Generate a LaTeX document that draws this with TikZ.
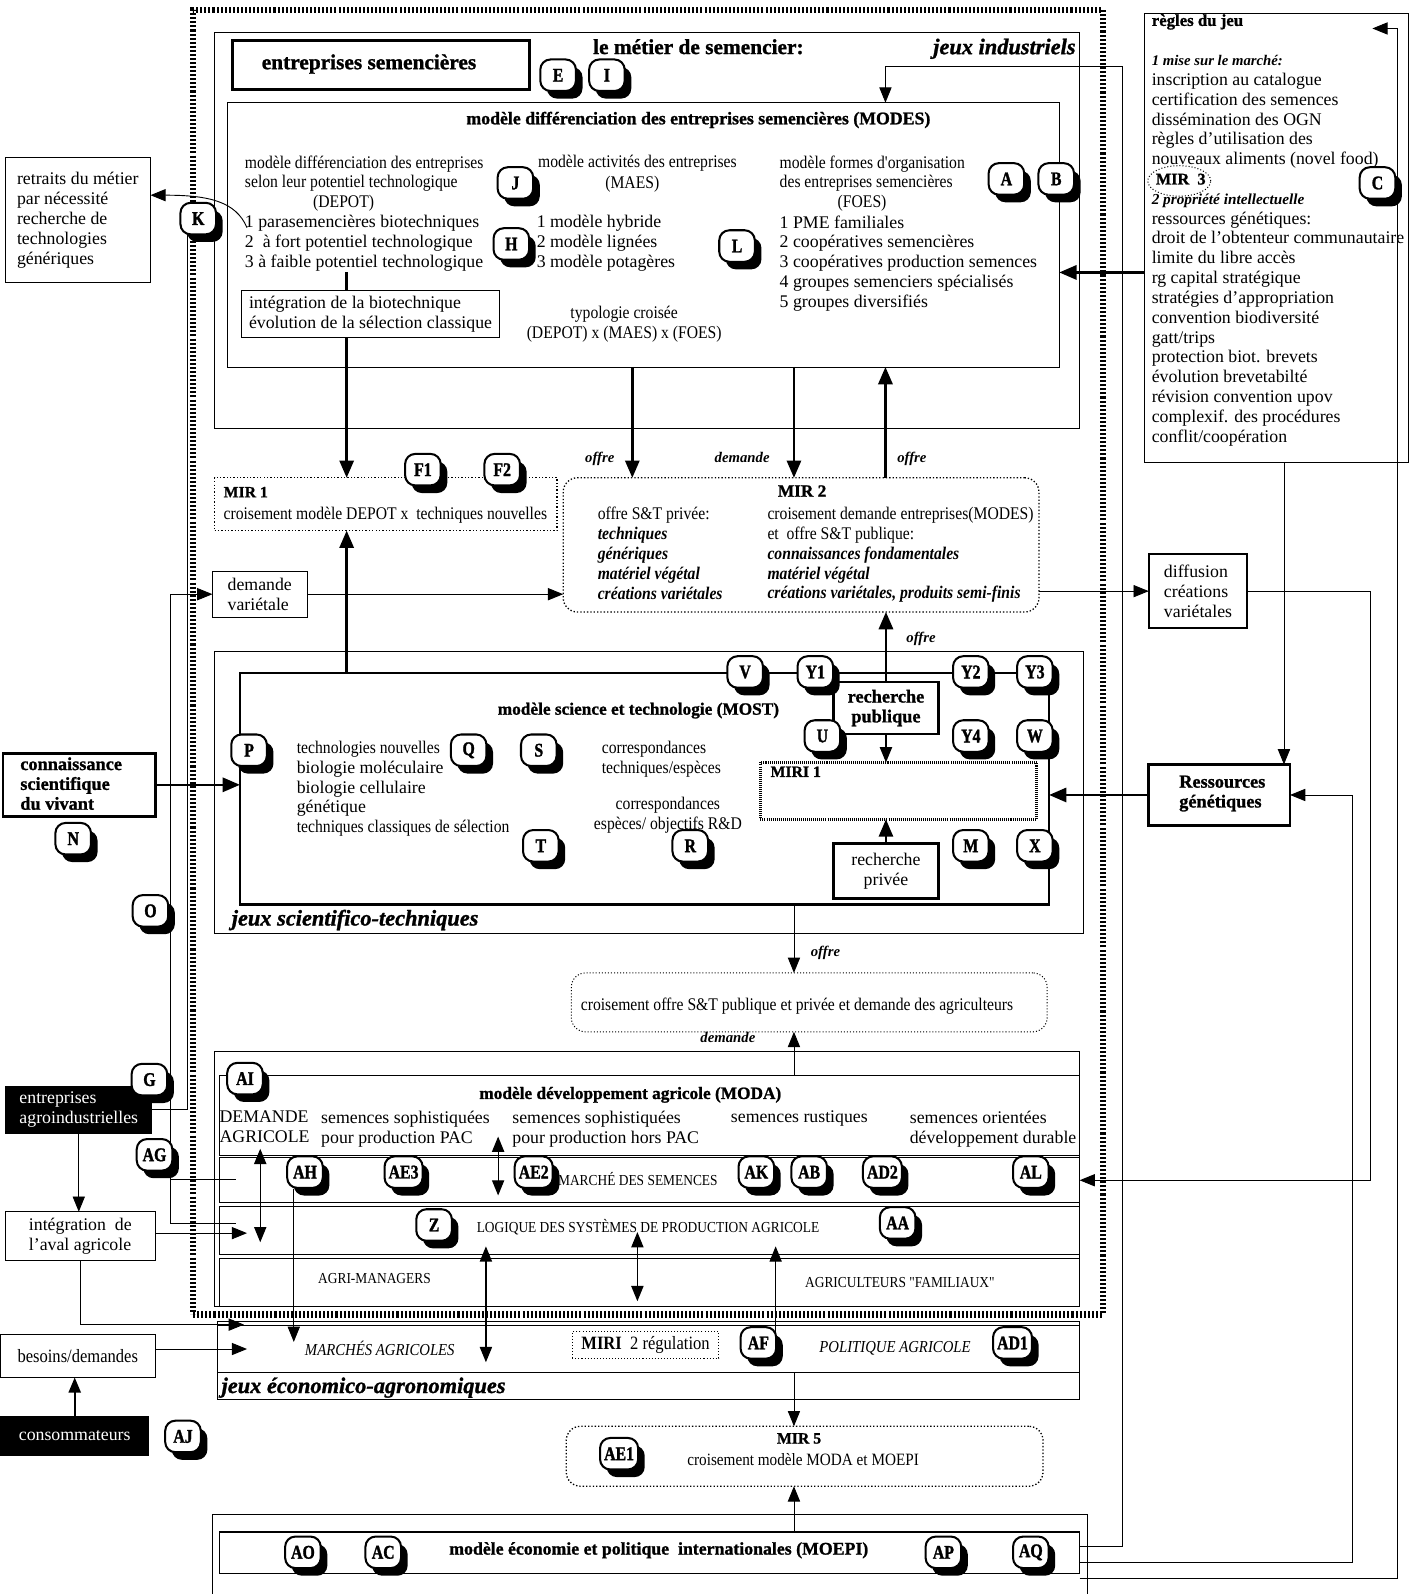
\documentclass[tikz,border=0pt]{standalone}
\usepackage{fontspec}
\setmainfont{Liberation Serif}
\newfontfamily\cnd{Liberation Serif}[FakeStretch=0.88]
\newfontfamily\hv{Liberation Serif}[BoldFeatures={FakeBold=1.2},BoldItalicFeatures={FakeBold=1.2}]
\newfontfamily\bdg{Liberation Serif}[FakeStretch=0.82,BoldFeatures={FakeBold=1.5}]
\usetikzlibrary{arrows.meta,shadows,shapes.geometric,calc}
\newcommand\myfs[1]{\fontsize{#1}{19.5}\selectfont}
\begin{document}
\begin{tikzpicture}[x=1pt,y=-1pt,
 every node/.style={inner sep=0pt,outer sep=0pt},
 txt/.style={anchor=north west,align=left,font=\myfs{17.5}},
 ctx/.style={anchor=north west,align=left,font=\cnd\myfs{17.5}},
 ctxt/.style={align=center,font=\cnd\myfs{17.5}},
 bt/.style={font=\hv\bfseries\myfs{17}},
 box/.style={draw,line width=0.9pt},
 tbox/.style={draw,line width=2.6pt},
 dbox/.style={draw,line width=1.3pt,dotted,rounded corners=14pt},
 badge/.style={draw,fill=white,line width=2pt,rounded corners=10pt,minimum width=35pt,minimum height=31pt,inner xsep=4pt,font=\bdg\bfseries\fontsize{19}{19}\selectfont,drop shadow={shadow xshift=6.5pt,shadow yshift=-7.5pt,fill=black,opacity=1}},
 arr/.style={-{Triangle[length=15pt,width=12pt]},line width=0.9pt},
 tarr/.style={-{Triangle[length=17pt,width=14pt]},line width=2.4pt},
 darr/.style={{Triangle[length=15pt,width=12pt]}-{Triangle[length=15pt,width=12pt]},line width=1.2pt},
 lab/.style={font=\myfs{14.5}\itshape\bfseries},
 line/.style={line width=0.9pt},
]
\useasboundingbox (0,0) rectangle (1398,1568);

% ---------- boxes ----------
\node[draw,line width=6pt,dash pattern=on 2pt off 2pt,minimum width=895pt,minimum height=1283pt] (hatch) at (637.5,651.5) {};
\node[box,minimum width=851pt,minimum height=389pt] (jind) at (636.5,226.5) {};
\node[tbox,minimum width=292pt,minimum height=48pt] (entsem) at (375,64) {};
\node[box,minimum width=818pt,minimum height=260pt] (modes) at (633,231) {};
\node[box,minimum width=143pt,minimum height=123pt,align=left,font=\myfs{17.5}] (retraits) at (76.5,216.5) {retraits du métier\\par nécessité\\recherche de\\technologies\\génériques};
\node[box,minimum width=253pt,minimum height=46pt,align=left,font=\myfs{17.5}] (integ) at (364.5,309) {intégration de la biotechnique\\évolution de la sélection classique};
\node[box,minimum width=259pt,minimum height=442pt] (regles) at (1255.5,234) {};
\node[draw,line width=1.3pt,dotted,minimum width=337pt,minimum height=52pt] (mir1) at (379.5,496) {};
\node[dbox,minimum width=468pt,minimum height=132pt] (mir2) at (788,536) {};
\node[box,minimum width=93pt,minimum height=45pt,align=left,font=\myfs{17.5}] (demvar) at (255.5,584.5) {demande\\variétale};
\node[draw,line width=2pt,minimum width=97pt,minimum height=73pt,align=left,font=\myfs{17.5}] (diff) at (1178.5,581.5) {diffusion\\créations\\variétales};
\node[box,minimum width=855pt,minimum height=277pt] (jst) at (638.5,779.5) {};
\node[tbox,minimum width=796pt,minimum height=228pt] (most) at (634,776) {};
\node[tbox,fill=white,minimum width=103pt,minimum height=51pt,align=center,font=\hv\bfseries\myfs{18}] (rpub) at (871.5,696.5) {recherche\\publique};
\node[draw,line width=3pt,dash pattern=on 1pt off 1pt,minimum width=272pt,minimum height=56pt] (miri1) at (884,778) {};
\node[tbox,minimum width=103pt,minimum height=54pt,align=center,font=\myfs{17.5}] (rpriv) at (871.5,857) {recherche\\privée};
\node[tbox,minimum width=150pt,minimum height=62pt] (conn) at (78,772) {};
\node[tbox,minimum width=139pt,minimum height=60pt] (resgen) at (1199.5,782) {};
\node[draw,line width=1pt,dotted,rounded corners=14pt,minimum width=468pt,minimum height=58pt] (crois) at (796,986) {};
\node[box,minimum width=851pt,minimum height=251pt] (modao) at (636.5,1159.5) {};
\node[box,minimum width=846pt,minimum height=79pt] (modai) at (639,1097.5) {};
\node[box,minimum width=846pt,minimum height=44pt] (rmarche) at (639,1161) {};
\node[box,minimum width=846pt,minimum height=47pt] (rlog) at (639,1210.5) {};
\node[box,minimum width=846pt,minimum height=47pt] (ragri) at (639,1261.5) {};
\node[fill=black,minimum width=145pt,minimum height=47pt,text=white,align=left,font=\myfs{17.5}] (entagro) at (77.5,1091.5) {entreprises\\agroindustrielles};
\node[box,minimum width=148pt,minimum height=48pt,align=left,font=\myfs{17.5}] (integaval) at (79,1216) {intégration \ de\\l'aval agricole};
\node[box,minimum width=153pt,minimum height=42pt,font=\cnd\myfs{18.5}] (besoins) at (76.5,1334) {besoins/demandes};
\node[fill=black,minimum width=147pt,minimum height=39pt,text=white,font=\myfs{17.5}] (conso) at (73.5,1412.5) {consommateurs};
\node[box,minimum width=848pt,minimum height=77pt] (eco) at (638,1338.5) {};
\draw[line] (eco.north west) ++(0,4) coordinate (ecol1) -- (ecol1 -| eco.east);
\coordinate (ecoy) at (0,1350);
\draw[line] (eco.west |- ecoy) -- (eco.east |- ecoy);
\node[draw,dotted,line width=1pt,minimum width=144pt,minimum height=26pt,font=\cnd\myfs{18.5}] (miri2) at (635,1323) {\textbf{MIRI}\ \ 2 régulation};
\node[dbox,minimum width=469pt,minimum height=59pt] (mir5) at (791.5,1432.5) {};
\node[box,minimum width=861pt,minimum height=84pt] (moepio) at (639.5,1532) {};
\node[box,line width=1.5pt,minimum width=846pt,minimum height=41pt] (moepi) at (639,1527.5) {};
\node[draw,ellipse,dotted,line width=1pt,minimum width=62pt,minimum height=30pt] (mir3) at (1160,178) {};

% ---------- texts ----------
\node[font=\hv\bfseries\myfs{21}] (t1) at (363,63) {entreprises semencières};
\node[font=\hv\bfseries\myfs{21}] (t2) at (687,46) {le métier de semencier:};
\node[font=\hv\bfseries\itshape\myfs{22},anchor=east] (t3) at (1058,48) {jeux industriels};
\node[bt,font=\hv\bfseries\myfs{17.5}] (t4) at (687,118) {modèle différenciation des entreprises semencières (MODES)};
\node[ctx] (t5) at (241,153) {modèle différenciation des entreprises\\selon leur potentiel technologique};
\node[ctxt] (t5b) at (338,200) {(DEPOT)};
\node[txt] (t6) at (241,212) {1 parasemencières biotechniques\\2 \ à fort potentiel technologique\\3 à faible potentiel technologique};
\node[ctxt] (t7) at (627,161) {modèle activités des entreprises};
\node[ctxt] (t7b) at (622,181) {(MAES)};
\node[txt] (t8) at (528,212) {1 modèle hybride\\2 modèle lignées\\3 modèle potagères};
\node[ctx] (t9) at (767,153) {modèle formes d'organisation\\des entreprises semencières};
\node[ctxt] (t9b) at (848,200) {(FOES)};
\node[txt] (t10) at (767,212) {1 PME familiales\\2 coopératives semencières\\3 coopératives production semences\\4 groupes semenciers spécialisés\\5 groupes diversifiés};
\node[ctxt] (t11) at (614,319) {typologie croisée\\(DEPOT) x (MAES) x (FOES)};
\node[txt] (rtxt) at (1133,14) {{\hv\bfseries\myfs{16.5}règles du jeu}\\[19.5pt]{\myfs{14.5}\itshape\bfseries 1 mise sur le marché:}\\inscription au catalogue\\certification des semences\\dissémination des OGN\\règles d'utilisation des\\nouveaux aliments (novel food)\\{\hv\bfseries\myfs{16} MIR \ 3}\\{\myfs{15}\itshape\bfseries 2 propriété intellectuelle}\\ressources génétiques:\\droit de l'obtenteur communautaire\\limite du libre accès\\rg capital stratégique\\stratégies d'appropriation\\convention biodiversité\\gatt/trips\\protection biot. brevets\\évolution brevetabilté\\révision convention upov\\complexif. des procédures\\conflit/coopération};
\node[txt,font=\hv\bfseries\myfs{15.5}] (t12) at (220,479) {MIR 1};
\node[ctx] (t13) at (220,499) {croisement modèle DEPOT x \ techniques nouvelles};
\node[bt] (t14) at (789,483) {MIR 2};
\node[ctx] (t15) at (588,499) {offre S\&T privée:\\\textit{\textbf{techniques}}\\\textit{\textbf{génériques}}\\\textit{\textbf{matériel végétal}}\\\textit{\textbf{créations variétales}}};
\node[ctx] (t16) at (755,499) {croisement demande entreprises(MODES)\\et \ offre S\&T publique:\\\textit{\textbf{connaissances fondamentales}}\\\textit{\textbf{matériel végétal}}\\\textit{\textbf{créations variétales, produits semi-finis}}};
\node[bt] (t17) at (628,699) {modèle science et technologie (MOST)};
\node[txt] (t18) at (292,729) {{\cnd technologies nouvelles}\\biologie moléculaire\\biologie cellulaire\\génétique\\{\cnd techniques classiques de sélection}};
\node[ctx] (t19) at (592,729) {correspondances\\techniques/espèces};
\node[ctxt] (t20) at (657,802) {correspondances\\espèces/ objectifs R\&D};
\node[txt,font=\hv\bfseries\myfs{15.5}] (t21) at (758,754) {MIRI 1};
\node[font=\hv\bfseries\itshape\myfs{22},anchor=west] (t22) at (228,905) {jeux scientifico-techniques};
\node[txt,font=\hv\bfseries\myfs{18}] (t23) at (20,745) {connaissance\\scientifique\\du vivant};
\node[txt,font=\hv\bfseries\myfs{18}] (t24) at (1160,763) {Ressources\\génétiques};
\node[font=\cnd\myfs{17.5}] (t25) at (784,990) {croisement offre S\&T publique et privée et demande des agriculteurs};
\node[bt] (t26) at (620,1077) {modèle développement agricole (MODA)};
\node[txt] (t27) at (216,1093) {DEMANDE\\AGRICOLE};
\node[txt] (t28) at (316,1093) {semences sophistiquées\\pour production PAC};
\node[txt] (t29) at (504,1093) {semences sophistiquées\\pour production hors PAC};
\node[txt] (t30) at (719,1093) {semences rustiques};
\node[txt] (t31) at (895,1093) {semences orientées\\développement durable};
\node[font=\cnd\myfs{15},anchor=west] (t32) at (549,1160) {MARCHÉ DES SEMENCES};
\node[font=\cnd\myfs{15},anchor=west] (t33) at (469,1207) {LOGIQUE DES SYSTÈMES DE PRODUCTION AGRICOLE};
\node[font=\cnd\myfs{15},anchor=west] (t34) at (313,1258) {AGRI-MANAGERS};
\node[font=\cnd\myfs{15},anchor=west] (t35) at (792,1262) {AGRICULTEURS "FAMILIAUX"};
\node[font=\cnd\myfs{16.5}\itshape,anchor=west] (t36) at (300,1326) {MARCHÉS AGRICOLES};
\node[font=\cnd\myfs{16.5}\itshape,anchor=west] (t37) at (806,1326) {POLITIQUE AGRICOLE};
\node[font=\hv\bfseries\itshape\myfs{22},anchor=west] (t38) at (218,1365) {jeux économico-agronomiques};
\node[bt,font=\hv\bfseries\myfs{15.5}] (t39) at (786,1415) {MIR 5};
\node[font=\cnd\myfs{17}] (t40) at (790,1436) {croisement modèle MODA et MOEPI};
\node[bt,font=\hv\bfseries\myfs{17.5}] (t41) at (648,1525) {modèle économie et politique \ internationales (MOEPI)};

% ---------- helper coordinates ----------
\coordinate (c341) at (341,268);
\coordinate (x622) at (622,0);
\coordinate (x781) at (781,0);
\coordinate (x871) at (871,0);
\coordinate (y268) at (0,268);
\coordinate (x1263) at (1263,0);
\coordinate (x1348) at (1348,0);
\coordinate (x1104) at (1104,0);
\coordinate (y65) at (0,65);
\coordinate (y1521) at (0,1521);
\coordinate (y1537) at (0,1537);
\coordinate (y1553) at (0,1553);
\coordinate (x1330) at (1330,0);
\coordinate (x1375) at (1375,0);
\coordinate (rtip) at (1350,28);
\coordinate (kstart) at (243,224);
\coordinate (y192) at (0,192);
\coordinate (x184) at (184,0);
\coordinate (x168) at (168,0);
\coordinate (zend) at (232,1203);
\coordinate (agend) at (232,1160);
\coordinate (lin) at (243,1213);
\coordinate (ein) at (240,1303);
\coordinate (bin) at (243,1327);
\coordinate (d1a) at (256,1130); \coordinate (d1b) at (256,1222);
\coordinate (d2a) at (490,1118); \coordinate (d2b) at (490,1176);
\coordinate (d3a) at (627,1212); \coordinate (d3b) at (627,1280);
\coordinate (d4a) at (478,1226); \coordinate (d4b) at (478,1340);
\coordinate (afb) at (763,1312); \coordinate (aft) at (763,1226);
\coordinate (ahb) at (289,1170); \coordinate (aht) at (289,1320);

% ---------- connectors ----------
\draw[line width=2.4pt] (c341) -- (c341 |- integ.north);
\draw[tarr] (c341 |- integ.south) -- (c341 |- mir1.north);
\draw[tarr] (x622 |- modes.south) -- (x622 |- mir2.north);
\draw[tarr] (x781 |- modes.south) -- (x781 |- mir2.north);
\draw[tarr] (x871 |- mir2.north) -- (x871 |- modes.south);
\draw[tarr] (c341 |- most.north) -- (c341 |- mir1.south);
\draw[arr] (demvar.east) -- (demvar.east -| mir2.west);
\draw[tarr] (rpub.north) -- (rpub.north |- mir2.south);
\draw[arr,line width=1.4pt] (rpub.south) -- (rpub.south |- miri1.north);
\draw[tarr,line width=2pt] (rpriv.north) -- (rpriv.north |- miri1.south);
\draw[tarr] (conn.east) -- (conn.east -| most.west);
\draw[tarr] (resgen.west) -- (resgen.west -| most.east);
\draw[arr] (x781 |- most.south) -- (x781 |- crois.north);
\draw[arr] (x781 |- modai.north) -- (x781 |- crois.south);
\draw[tarr] (regles.west |- y268) -- (modes.east |- y268);
\draw[arr] (x1263 |- regles.south) -- (x1263 |- resgen.north);
\draw[arr] (mir2.east |- diff.west) -- (diff.west);
\draw[arr] (diff.east) -| (x1348 |- rmarche.east) -- (rmarche.east);
\draw[arr] (moepi.east |- y1521) -| (x1104 |- y65) -| (x871 |- modes.north);
\draw[arr] (moepi.east |- y1537) -| (x1330 |- resgen.east) -- (resgen.east);
\draw[arr] (moepi.east |- y1553) -| (x1375 |- rtip) -- (rtip);
\draw[arr] (kstart) .. controls (232,198) and (205,192) .. (retraits.east |- y192);
\draw[line] (x184 |- kstart) |- (entagro.east);
\draw[arr] (zend) -| (x168 |- demvar.west) -- (demvar.west);
\draw[line] (x168 |- agend) -- (agend);
\draw[arr] (entagro.south) -- (entagro.south |- integaval.north);
\draw[arr] (integaval.east |- lin) -- (lin);
\draw[arr] (integaval.south) |- (ein);
\draw[arr] (besoins.east |- bin) -- (bin);
\draw[arr,line width=2pt] (conso.north) -- (conso.north |- besoins.south);
\draw[darr] (d1a) -- (d1b);
\draw[darr] (d2a) -- (d2b);
\draw[darr] (d3a) -- (d3b);
\draw[darr] (d4a) -- (d4b);
\draw[arr] (afb) -- (aft);
\draw[arr] (ahb) -- (aht);
\draw[arr] (x781 |- ecoy) -- (x781 |- mir5.north);
\draw[arr] (x781 |- moepi.north) -- (x781 |- mir5.south);

% ---------- connector labels ----------
\node[lab] (l1) at (590,451) {offre};
\node[lab] (l2) at (730,450) {demande};
\node[lab] (l3) at (897,451) {offre};
\node[lab] (l4) at (906,628) {offre};
\node[lab] (l5) at (812,937) {offre};
\node[lab] (l6) at (716,1021) {demande};

% ---------- badges ----------
\foreach \n/\x/\y in {E/549/74,I/597/74,J/507/180,K/195/215,H/503/240,L/725/242,A/990/176,B/1039/176,C/1355/180,F1/416/462,F2/494/462,V/733/661,Y1/802/661,Y2/955/661,Y3/1018/661,U/809/724,Y4/955/724,W/1018/724,P/245/738,Q/461/738,S/530/738,T/532/832,R/679/832,M/955/832,X/1018/832,N/72/825,O/148/896,G/147/1062,AI/241/1061,AG/152/1136,AH/300/1153,AE3/397/1153,AE2/525/1153,AK/744/1153,AB/796/1153,AD2/868/1153,AL/1014/1153,Z/427/1205,AA/883/1203,AJ/180/1413,AF/746/1321,AD1/996/1321,AE1/609/1430,AO/298/1527,AC/377/1527,AP/928/1527,AQ/1014/1527}
  \node[badge] (b\n) at (\x,\y) {\n};
\end{tikzpicture}
\end{document}
